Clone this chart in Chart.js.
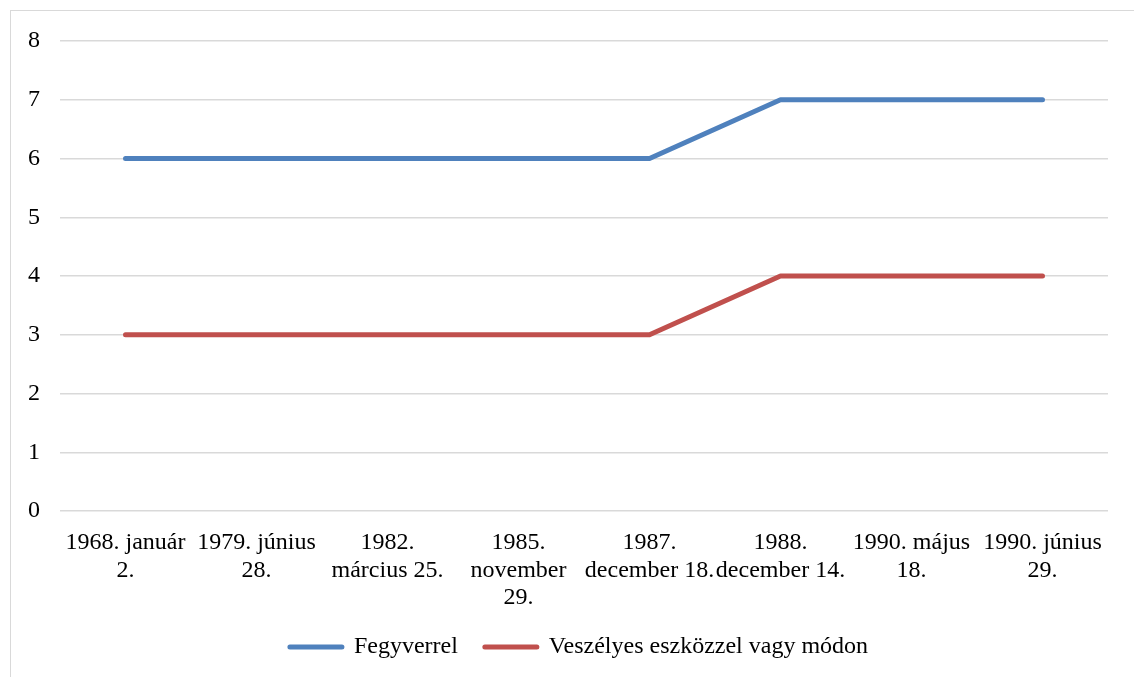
<!DOCTYPE html>
<html>
<head>
<meta charset="utf-8">
<script src="https://cdn.jsdelivr.net/npm/chart.js@4"></script>
<style>
  html, body { margin: 0; padding: 0; background: #fff; overflow: hidden; }
  #wrap { position: relative; width: 1134px; height: 677px; }
  #frame { position: absolute; left: 10px; top: 10px; width: 1200px; height: 800px; border: 1px solid #d9d9d9; box-sizing: border-box; }
  canvas { position: absolute; left: 0; top: 0; }
</style>
</head>
<body>
<div id="wrap">
  <div id="frame"></div>
  <canvas id="chart" width="1134" height="677"></canvas>
</div>
<script>
var categories = [
  ["1968. január", "2."],
  ["1979. június", "28."],
  ["1982.", "március 25."],
  ["1985.", "november", "29."],
  ["1987.", "december 18."],
  ["1988.", "december 14."],
  ["1990. május", "18."],
  ["1990. június", "29."]
];
var fegyverrel = [6, 6, 6, 6, 6, 7, 7, 7];
var veszelyes = [3, 3, 3, 3, 3, 4, 4, 4];
var yTicks = [0, 1, 2, 3, 4, 5, 6, 7, 8];

var serif = "'Liberation Serif', 'Times New Roman', serif";

var canvas = document.getElementById('chart');
new Chart(canvas, {
  type: 'line',
  data: {
    labels: categories,
    datasets: [{
      label: 'Fegyverrel',
      data: fegyverrel,
      borderColor: '#4f81bd',
      backgroundColor: '#4f81bd',
      borderWidth: 5,
      borderCapStyle: 'round',
      borderJoinStyle: 'round',
      pointRadius: 0,
      tension: 0
    }, {
      label: 'Veszélyes eszközzel vagy módon',
      data: veszelyes,
      borderColor: '#c0504d',
      backgroundColor: '#c0504d',
      borderWidth: 5,
      borderCapStyle: 'round',
      borderJoinStyle: 'round',
      pointRadius: 0,
      tension: 0
    }]
  },
  options: {
    responsive: false,
    animation: false,
    layout: { padding: { left: 50, right: 26, top: 41, bottom: 8 } },
    plugins: {
      tooltip: { enabled: false },
      legend: {
        position: 'bottom',
        labels: {
          usePointStyle: true,
          pointStyle: 'line',
          pointStyleWidth: 52,
          padding: 27,
          color: '#000',
          font: { family: serif, size: 24 },
          generateLabels: function(chart) {
            var items = Chart.defaults.plugins.legend.labels.generateLabels(chart);
            items.forEach(function(it) { it.lineCap = 'round'; it.lineWidth = 5; });
            return items;
          }
        }
      }
    },
    scales: {
      x: {
        offset: true,
        grid: { display: false, drawTicks: false },
        border: { display: false },
        ticks: {
          autoSkip: false,
          maxRotation: 0,
          minRotation: 0,
          padding: 18,
          color: '#000',
          font: { family: serif, size: 24, lineHeight: 1.15 }
        },
        afterFit: function(scale) { scale.height = 97; }
      },
      y: {
        min: 0,
        max: 8,
        afterBuildTicks: function(scale) {
          scale.ticks = yTicks.map(function(v) { return { value: v }; });
        },
        grid: { color: '#d9d9d9', lineWidth: 1.5, drawTicks: false },
        border: { display: false },
        ticks: {
          mirror: true,
          padding: -32,
          color: '#000',
          font: { family: serif, size: 24 }
        },
        afterFit: function(scale) { scale.width = 10; }
      }
    }
  }
});
</script>
</body>
</html>
